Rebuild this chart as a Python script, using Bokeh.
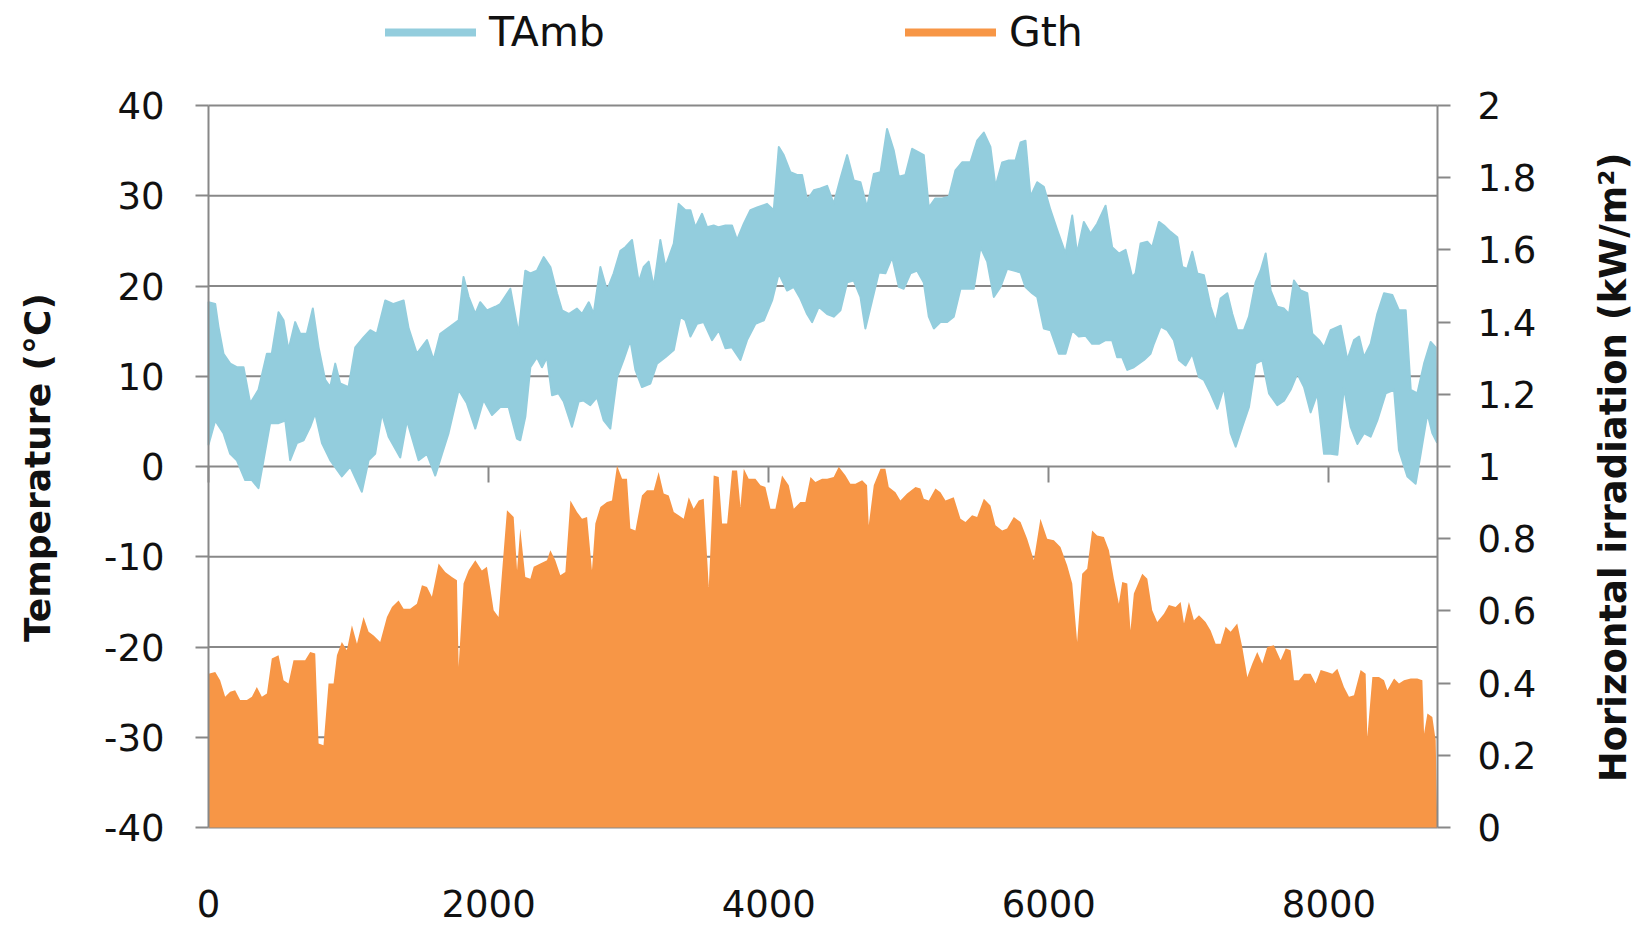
import math
from bokeh.plotting import figure
from bokeh.models import Range1d, LinearAxis, FixedTicker, Legend, LegendItem, Label
from bokeh.embed import file_html
from bokeh.resources import INLINE

# ---------------- data ----------------
# Hour of year and ambient temperature envelope (upper / lower edge of the hourly trace), degC
tamb_upper_h = [0, 48, 71, 107, 155, 202, 250, 298, 357, 417, 452, 500, 536, 571, 619, 655, 702, 745, 786, 833,
                869, 905, 940, 1000, 1048, 1107, 1155, 1202, 1262, 1321, 1393, 1429, 1488, 1560, 1607, 1655, 1726,
                1786, 1821, 1857, 1905, 1940, 1988, 2048, 2083, 2155, 2214,
                2262, 2298, 2345, 2393, 2441, 2488, 2524, 2572, 2631, 2667, 2715, 2750, 2798, 2845, 2893, 2941, 2976,
                3024, 3072, 3107, 3143, 3179, 3226, 3262, 3322, 3357, 3405, 3441, 3476, 3524, 3560, 3607, 3643, 3691,
                3738, 3774, 3822, 3869, 3917, 3988, 4036, 4072, 4107, 4155, 4202, 4238, 4274, 4322, 4369,
                4417, 4464, 4512, 4560, 4607, 4655, 4702, 4750, 4798, 4845, 4893, 4929, 4976, 5024, 5071, 5107, 5143,
                5190, 5238, 5286, 5333, 5381, 5440, 5488, 5536, 5583, 5619, 5667, 5714, 5762, 5798, 5833, 5869, 5917,
                5964, 6012, 6060, 6119, 6167, 6202, 6250, 6298, 6345, 6405, 6452, 6500, 6548, 6595,
                6619, 6655, 6703, 6738, 6786, 6822, 6869, 6917, 6953, 6988, 7024, 7060, 7107, 7155, 7191, 7226, 7274,
                7310, 7345, 7393, 7429, 7476, 7512, 7548, 7584, 7631, 7679, 7715, 7750, 7798, 7845, 7881, 7929, 7965,
                8012, 8084, 8131, 8179, 8215, 8250, 8298, 8345, 8393, 8453, 8500, 8548, 8584, 8631, 8679, 8726, 8762]
tamb_upper = [18.2, 18.0, 15.5, 12.5, 11.4, 11.0, 11.0, 7.0, 8.5, 12.5, 12.5, 17.1, 16.2, 12.9, 16.0, 14.7, 14.7,
              17.5, 13.2, 9.6, 8.8, 11.4, 9.2, 8.8, 13.2, 14.3, 15.1, 14.7, 18.4, 18.0, 18.4, 15.3, 12.5, 14.0, 11.8,
              14.7, 15.5, 16.2, 21.0, 18.8, 16.9, 18.2, 17.3, 17.7, 18.0, 19.7, 14.7,
              21.7, 21.4, 21.7, 23.2, 22.1, 19.2, 17.3, 16.9, 17.5, 16.9, 18.2, 16.9, 22.1, 19.5, 21.4, 23.9, 24.3,
              25.1, 20.4, 22.1, 22.7, 19.9, 25.1, 22.1, 24.7, 29.1, 28.4, 28.4, 26.5, 28.0, 26.5, 26.7, 26.5, 26.7,
              26.7, 25.1, 26.9, 28.4, 28.7, 29.1, 28.4, 35.4, 34.5, 32.6, 32.3, 32.3, 29.5, 30.6, 30.8,
              31.1, 29.1, 31.9, 34.5, 31.7, 31.5, 28.7, 32.4, 32.6, 37.4, 35.0, 32.1, 32.3, 35.2, 34.8, 34.5, 28.7,
              29.7, 29.7, 29.9, 32.8, 33.7, 33.7, 36.1, 37.0, 35.4, 31.0, 33.7, 33.9, 33.9, 35.9, 36.1, 29.9, 31.5,
              31.0, 28.4, 26.2, 23.6, 27.8, 23.6, 27.1, 25.8, 26.9, 28.9, 24.3, 23.6, 24.0, 21.0,
              21.4, 24.7, 24.9, 24.3, 27.1, 26.7, 26.0, 25.4, 22.1, 21.9, 23.8, 21.4, 21.2, 17.7, 16.0, 18.6, 19.2,
              16.9, 15.1, 15.1, 16.6, 20.4, 21.7, 23.6, 19.5, 17.7, 17.5, 16.9, 20.6, 19.5, 19.2, 14.7, 14.0, 13.2,
              15.1, 15.6, 11.8, 14.0, 14.4, 12.1, 13.6, 16.9, 19.2, 19.0, 17.3, 17.3, 8.5, 8.1, 11.4, 13.8, 13.2]

tamb_lower_h = [0, 48, 107, 155, 202, 262, 310, 357, 393, 440, 500, 548, 583, 631, 679, 726, 762, 810, 869, 952,
                1012, 1095, 1143, 1190, 1238, 1286, 1369, 1417, 1500, 1560, 1619, 1667, 1714, 1786, 1845, 1905,
                1964, 2024, 2083, 2143, 2202,
                2226, 2262, 2298, 2345, 2381, 2417, 2453, 2500, 2536, 2595, 2643, 2679, 2726, 2774, 2822, 2869, 2917,
                2965, 3012, 3048, 3095, 3155, 3202, 3262, 3322, 3369, 3405, 3441, 3488, 3536, 3595, 3643, 3691, 3738,
                3798, 3845, 3905, 3965, 4024, 4072, 4131, 4179, 4226, 4274, 4310, 4357,
                4417, 4464, 4512, 4560, 4607, 4655, 4690, 4738, 4786, 4833, 4881, 4929, 4964, 5012, 5060, 5107, 5143,
                5179, 5226, 5274, 5321, 5369, 5417, 5464, 5512, 5560, 5607, 5655, 5702, 5750, 5798, 5833, 5881, 5917,
                5964, 6012, 6071, 6119, 6167, 6214, 6262, 6309, 6357, 6405, 6452, 6488, 6524, 6560, 6607,
                6679, 6726, 6750, 6798, 6846, 6893, 6929, 6976, 7024, 7072, 7107, 7155, 7203, 7250, 7298, 7334, 7381,
                7429, 7476, 7524, 7572, 7631, 7679, 7726, 7774, 7822, 7869, 7917, 7965, 8012, 8060, 8107, 8155, 8203,
                8250, 8298, 8345, 8405, 8465, 8500, 8560, 8619, 8655, 8703, 8738, 8770]
tamb_lower = [2.4, 5.1, 3.7, 1.4, 0.7, -1.5, -1.5, -2.4, 0.7, 4.8, 4.8, 5.1, 0.7, 2.6, 2.9, 4.4, 5.9, 2.6, 0.7,
              -1.1, 0.0, -2.8, 0.7, 1.4, 5.9, 3.3, 1.0, 5.1, 0.7, 1.4, -1.0, 1.4, 3.7, 8.5, 7.0, 4.2, 7.4, 5.7, 6.6,
              6.6, 3.1,
              2.9, 5.5, 11.0, 12.1, 11.0, 12.1, 7.9, 8.1, 7.2, 4.4, 7.2, 7.3, 6.8, 7.7, 5.1, 4.2, 9.9, 11.9, 14.0,
              10.7, 8.8, 9.2, 11.4, 12.1, 12.9, 16.6, 16.2, 14.4, 15.8, 16.0, 14.0, 15.1, 13.1, 13.2, 11.8, 14.0,
              15.8, 16.2, 18.4, 21.4, 19.5, 19.9, 18.6, 16.9, 16.0, 17.7,
              16.9, 16.6, 17.3, 20.4, 20.6, 18.8, 15.3, 18.4, 21.5, 21.4, 23.2, 19.9, 19.7, 21.4, 21.7, 20.4, 16.6,
              15.3, 16.0, 16.0, 16.6, 19.7, 19.7, 19.7, 24.3, 22.7, 18.8, 19.9, 21.9, 21.7, 21.5, 19.9, 19.2, 18.8,
              15.3, 15.1, 12.5, 12.5, 15.1, 14.4, 14.5, 13.6, 13.6, 14.0, 14.0, 12.1, 12.1, 10.7, 11.0,
              11.8, 12.5, 13.6, 15.5, 15.1, 14.0, 11.8, 11.2, 12.5, 9.9, 9.6, 8.1, 6.4, 8.8, 3.7, 2.2, 4.4, 6.6,
              11.4, 11.8, 8.1, 6.8, 7.3, 8.5, 10.3, 8.8, 6.0, 8.1, 1.4, 1.4, 1.3, 8.8, 4.4, 2.5, 3.7, 3.3, 5.1, 8.1,
              8.5, 1.8, -1.1, -1.9, 1.4, 5.9, 3.7, 2.7]

# Hour of year and daily peak of global horizontal irradiation, kW/m2
gth_h = [0, 48, 83, 119, 155, 190, 226, 274, 310, 345, 381, 417, 452, 500, 536, 571, 607, 655, 690, 726, 762, 786,
         821, 857, 893, 917, 952, 988, 1024, 1060, 1107, 1143, 1179, 1226, 1274, 1310, 1357, 1393, 1440, 1488, 1524,
         1560, 1595, 1643, 1690, 1738, 1774, 1786, 1821, 1857, 1905, 1952, 1988, 2036, 2071, 2095, 2131,
         2179, 2203, 2226, 2262, 2298, 2322, 2369, 2417, 2441, 2476, 2512, 2548, 2584, 2631, 2667, 2703, 2738,
         2762, 2798, 2845, 2881, 2917, 2953, 2988, 3012, 3048, 3095, 3131, 3179, 3214, 3250, 3286, 3322, 3357,
         3393, 3429, 3464, 3500, 3536, 3572, 3607, 3643, 3667, 3703, 3738, 3774, 3798, 3822, 3857, 3905, 3941,
         3976, 4012, 4048, 4095, 4143, 4179, 4226, 4262, 4298, 4333, 4381,
         4417, 4464, 4500, 4548, 4583, 4619, 4667, 4702, 4714, 4750, 4798, 4833, 4857, 4905, 4940, 4988, 5048,
         5083, 5107, 5143, 5190, 5226, 5262, 5321, 5369, 5405, 5452, 5488, 5536, 5583, 5619, 5667, 5702, 5750,
         5798, 5845, 5893, 5940, 5988, 6036, 6083, 6131, 6167, 6202, 6238, 6274, 6309, 6345, 6393, 6429, 6464,
         6500, 6524, 6560, 6583, 6607,
         6667, 6703, 6738, 6774, 6822, 6857, 6905, 6941, 6965, 7000, 7036, 7072, 7119, 7155, 7191, 7226, 7262,
         7298, 7345, 7381, 7417, 7453, 7488, 7524, 7560, 7607, 7655, 7691, 7726, 7750, 7786, 7822, 7869, 7905,
         7941, 7988, 8024, 8060, 8107, 8143, 8179, 8226, 8262, 8274, 8310, 8357, 8393, 8417, 8465, 8500, 8536,
         8584, 8631, 8667, 8679, 8703, 8738, 8762, 8774]
gth = [0.426, 0.431, 0.408, 0.362, 0.376, 0.380, 0.353, 0.353, 0.362, 0.389, 0.362, 0.371, 0.468, 0.477, 0.408,
       0.399, 0.463, 0.463, 0.463, 0.486, 0.482, 0.233, 0.228, 0.399, 0.399, 0.477, 0.514, 0.491, 0.560, 0.509,
       0.583, 0.542, 0.532, 0.514, 0.583, 0.611, 0.629, 0.606, 0.606, 0.620, 0.671, 0.666, 0.639, 0.731, 0.708,
       0.694, 0.685, 0.445, 0.676, 0.712, 0.740, 0.712, 0.722, 0.602, 0.583, 0.703, 0.879,
       0.860, 0.712, 0.828, 0.694, 0.689, 0.722, 0.731, 0.740, 0.768, 0.740, 0.699, 0.708, 0.906, 0.874, 0.855,
       0.860, 0.712, 0.842, 0.888, 0.902, 0.906, 1.003, 0.966, 0.966, 0.828, 0.823, 0.920, 0.934, 0.934, 0.985,
       0.925, 0.920, 0.874, 0.865, 0.855, 0.915, 0.883, 0.906, 0.911, 0.666, 0.975, 0.971, 0.842, 0.842, 0.989,
       0.989, 0.888, 0.994, 0.966, 0.966, 0.948, 0.943, 0.883, 0.883, 0.975, 0.948, 0.883, 0.902, 0.902, 0.971,
       0.957, 0.966,
       0.966, 0.971, 0.999, 0.975, 0.952, 0.952, 0.962, 0.948, 0.837, 0.948, 0.994, 0.994, 0.943, 0.929, 0.906,
       0.925, 0.943, 0.939, 0.911, 0.906, 0.939, 0.929, 0.906, 0.915, 0.855, 0.846, 0.865, 0.860, 0.911, 0.892,
       0.837, 0.823, 0.828, 0.860, 0.846, 0.800, 0.740, 0.855, 0.800, 0.796, 0.777, 0.726, 0.676, 0.514, 0.703,
       0.717, 0.823, 0.809, 0.805, 0.768, 0.689, 0.620, 0.680, 0.676, 0.546, 0.648,
       0.703, 0.689, 0.602, 0.569, 0.592, 0.616, 0.611, 0.625, 0.565, 0.625, 0.574, 0.588, 0.569, 0.546, 0.509,
       0.509, 0.556, 0.542, 0.565, 0.500, 0.417, 0.454, 0.486, 0.454, 0.500, 0.505, 0.463, 0.496, 0.491, 0.408,
       0.408, 0.426, 0.426, 0.399, 0.436, 0.431, 0.426, 0.440, 0.389, 0.362, 0.366, 0.436, 0.426, 0.251, 0.417,
       0.417, 0.408, 0.380, 0.413, 0.399, 0.408, 0.413, 0.413, 0.408, 0.260, 0.316, 0.306, 0.242, 0.0]

x_ticks = [0, 2000, 4000, 6000, 8000]
x_extent = (0, 8775)
temp_ticks = [-40, -30, -20, -10, 0, 10, 20, 30, 40]
temp_tick_labels = ["-40", "-30", "-20", "-10", "0", "10", "20", "30", "40"]
temp_extent = (-40, 40)
g_ticks = [0, 0.2, 0.4, 0.6, 0.8, 1, 1.2, 1.4, 1.6, 1.8, 2]
g_tick_labels = ["0", "0.2", "0.4", "0.6", "0.8", "1", "1.2", "1.4", "1.6", "1.8", "2"]
g_extent = (0, 2)
series_names = ["TAmb", "Gth"]
left_title = "Temperature (°C)"
right_title = "Horizontal irradiation (kW/m²)"

# ---------------- layout / styling ----------------
W, H = 1637, 925
PL, PR, PT, PB = 208, 1437, 105, 827          # plot area in page pixels
BLUE = "#93CDDD"
ORANGE = "#F79646"
GRID = "#888888"
TXT = "#111111"
FONT = "DejaVu Sans"
TICK_SIZE = "37px"
LEGEND_SIZE = "41px"

# the frame covers the whole canvas; the data region sits inside it, so text outside the plot area is not clipped
pxh = (PR - PL) / (x_extent[1] - x_extent[0])
pxt = (PB - PT) / (temp_extent[1] - temp_extent[0])
xr = Range1d(x_extent[0] - PL / pxh, x_extent[1] + (W - PR) / pxh)
yr_t = Range1d(temp_extent[0] - (H - PB) / pxt, temp_extent[1] + PT / pxt)
pxg = (PB - PT) / (g_extent[1] - g_extent[0])
yr_g = Range1d(g_extent[0] - (H - PB) / pxg, g_extent[1] + PT / pxg)

p = figure(width=W, height=H, output_backend="svg", toolbar_location=None,
           x_range=xr, y_range=yr_t, x_axis_location=None, y_axis_location=None,
           min_border=0, min_border_left=0, min_border_right=0, min_border_top=0, min_border_bottom=0)
p.outline_line_color = None
p.extra_y_ranges = {"g": yr_g}
for g in p.grid:
    g.visible = False

# horizontal gridlines at the temperature ticks, spanning the plot area only
p.segment(x0=x_extent[0], x1=x_extent[1], y0=temp_ticks, y1=temp_ticks,
          line_color=GRID, line_width=2, level="underlay")

def style_axis(ax):
    ax.axis_line_color = GRID
    ax.axis_line_width = 2
    ax.major_tick_line_color = GRID
    ax.major_tick_line_width = 2
    ax.minor_tick_out = 0
    ax.minor_tick_in = 0
    ax.major_tick_in = 0
    ax.major_label_text_font = FONT
    ax.major_label_text_font_size = TICK_SIZE
    ax.major_label_text_color = TXT

# left axis
yl = LinearAxis(fixed_location=x_extent[0], bounds=temp_extent, ticker=FixedTicker(ticks=temp_ticks))
style_axis(yl)
yl.major_tick_out = 13
yl.major_label_standoff = 31
yl.major_label_overrides = dict(zip(temp_ticks, temp_tick_labels))
p.add_layout(yl, "left")

# right axis
yrax = LinearAxis(fixed_location=x_extent[1], bounds=g_extent, y_range_name="g",
                  ticker=FixedTicker(ticks=g_ticks))
style_axis(yrax)
yrax.major_tick_out = 13
yrax.major_label_standoff = 27
yrax.major_label_overrides = dict(zip(g_ticks, g_tick_labels))
p.add_layout(yrax, "right")

# bottom tick labels
xb = LinearAxis(fixed_location=temp_extent[0], bounds=x_extent, ticker=FixedTicker(ticks=x_ticks))
style_axis(xb)
xb.axis_line_color = None
xb.major_tick_out = 0
xb.major_label_standoff = 62
p.add_layout(xb, "below")

# horizontal axis crossing at 0 degC (ticks only)
x0 = LinearAxis(fixed_location=0, bounds=x_extent, ticker=FixedTicker(ticks=x_ticks))
style_axis(x0)
x0.axis_line_color = None
x0.major_tick_out = 16
x0.major_label_text_font_size = "0px"
x0.major_label_text_alpha = 0
p.add_layout(x0, "below")

# data
p.varea(x=gth_h, y1=0, y2=gth, y_range_name="g", fill_color=ORANGE)
xs = tamb_upper_h + tamb_lower_h[::-1]
ys = tamb_upper + tamb_lower[::-1]
p.patch(xs, ys, fill_color=BLUE, line_color=BLUE, line_width=2, line_join="round")

# axis titles
p.add_layout(Label(x=37, y=H - 467, x_units="screen", y_units="screen", text=left_title, angle=math.pi / 2,
                   text_align="center", text_baseline="middle", text_font=FONT, text_font_style="bold",
                   text_font_size="36px", text_color=TXT))
p.add_layout(Label(x=1613, y=H - 467, x_units="screen", y_units="screen", text=right_title, angle=math.pi / 2,
                   text_align="center", text_baseline="middle", text_font=FONT, text_font_style="bold",
                   text_font_size="37px", text_color=TXT))

# legend (line samples above the plot area); the sample renderers hold no visible points
nan = float("nan")
lr1 = p.line(x=[0, 0], y=[nan, nan], line_color=BLUE, line_width=8, line_cap="round")
lr2 = p.line(x=[0, 0], y=[nan, nan], line_color=ORANGE, line_width=8, line_cap="round")
legend = Legend(items=[LegendItem(label=series_names[0], renderers=[lr1]),
                       LegendItem(label=series_names[1], renderers=[lr2])],
                orientation="horizontal", location=(385, H - 56), padding=0, margin=0, spacing=0,
                glyph_width=91, glyph_height=46, label_height=46, label_width=416, label_standoff=13,
                border_line_color=None, background_fill_alpha=0,
                label_text_font=FONT, label_text_font_size=LEGEND_SIZE, label_text_color=TXT)
p.add_layout(legend, "center")

open("out.html", "w").write(file_html(p, INLINE))
